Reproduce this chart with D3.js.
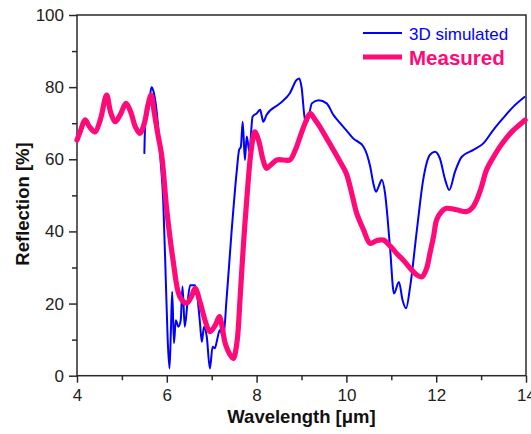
<!DOCTYPE html>
<html><head><meta charset="utf-8">
<script src="https://cdn.jsdelivr.net/npm/d3@7"></script>
<style>body{margin:0;background:#fff}svg{display:block}</style>
</head><body>
<svg id="c" width="531" height="434"></svg>
<script>
const xTicks = [4, 6, 8, 10, 12, 14];
const yTicks = [0, 20, 40, 60, 80, 100];
const seriesNames = ["3D simulated", "Measured"];

const simX = [5.5,5.52,5.58,5.62,5.66,5.7,5.74,5.8,5.86,5.92,5.98,6.02,6.06,6.09,6.12,6.16,6.2,6.26,6.31,6.35,6.4,6.46,6.52,6.63,6.68,6.74,6.78,6.83,6.89,6.96,7.02,7.07,7.12,7.18,7.26,7.33,7.44,7.56,7.61,7.65,7.69,7.74,7.78,7.84,7.91,8.0,8.08,8.11,8.15,8.22,8.52,8.74,8.89,8.95,9.0,9.08,9.13,9.23,9.38,9.56,9.71,9.86,10.0,10.15,10.38,10.53,10.6,10.66,10.72,10.79,10.86,10.97,11.06,11.17,11.25,11.33,11.42,11.57,11.71,11.86,11.97,12.08,12.2,12.29,12.42,12.57,12.83,13.05,13.27,13.49,13.72,13.98];
const simY = [61.5,70,73,77,80,79,76.5,70,60,48.7,25.6,10,2,12,23.3,9,15.4,13.6,15.4,24.7,13.6,20.1,25.1,25.1,21.9,14.5,9.4,13.6,10.8,2,8,7.6,9.9,12.7,10.8,21,39.5,57,62.6,63.5,70.4,59.8,66.3,62.1,71.8,72.7,73.7,72.3,70.4,72.3,75.5,78.3,82,82.4,80.1,70.9,70.4,75.5,76.4,75.5,72.3,70,68,65.8,63.5,58,53.3,51,52.5,54.3,50.6,35.8,22.8,26,21,18.7,24.7,40.4,54.3,61.2,62.1,60.3,54.3,51.5,56.6,60.7,62.6,64.4,68.1,71.4,74.6,77.4];

const measX = [4.0,4.08,4.18,4.28,4.4,4.52,4.66,4.75,4.85,4.97,5.09,5.2,5.3,5.4,5.5,5.58,5.65,5.72,5.8,5.89,6.0,6.14,6.29,6.44,6.55,6.63,6.75,6.86,6.96,7.08,7.17,7.24,7.3,7.4,7.48,7.56,7.63,7.7,7.78,7.88,7.96,8.05,8.14,8.22,8.32,8.45,8.6,8.74,8.86,8.97,9.08,9.19,9.3,9.41,9.56,9.71,9.85,10.0,10.12,10.23,10.38,10.53,10.68,10.82,10.97,11.12,11.27,11.42,11.56,11.68,11.78,11.86,11.94,12.01,12.12,12.23,12.45,12.68,12.8,12.9,13.0,13.12,13.27,13.42,13.57,13.72,13.85,13.98];
const measY = [65.3,68,70.9,69,67.6,71,77.8,73,70.4,72.5,75.5,73,69,67.2,70,75,77.8,73,67,60.7,45.9,32,21.9,20.1,22,24.2,20,15,12.2,14,16.4,13,9,6,4.8,9,21,35,48.7,62.6,67.6,65,60,57.5,58.5,59.8,59.8,59.8,62.5,66.3,70,72.7,71,69,65.8,62.6,59.5,56,50.5,45,40.5,36.7,37.5,37.6,36,33.9,32,29.8,28,27.4,29.5,33.9,38.5,43.2,45.5,46.4,46,45.5,46.5,48.7,52,57,60.5,63.5,66,68.1,69.5,70.9];

const svg = d3.select("#c");
const m = {l:77, r:526, t:15, b:375.7};
const x = d3.scaleLinear().domain([4,14]).range([m.l, m.r]);
const y = d3.scaleLinear().domain([0,100]).range([m.b, m.t]);
const font = "'Liberation Sans', Arial, sans-serif";
const axisCol = "#2a2a2a";

// frame
svg.append("rect").attr("x", m.l).attr("y", m.t).attr("width", m.r-m.l).attr("height", m.b-m.t)
  .attr("fill","none").attr("stroke", axisCol).attr("stroke-width",1.5);

// x axis
const xAxis = d3.axisBottom(x).tickValues(xTicks).tickSize(7).tickPadding(6).tickFormat(d3.format("d"));
const gx = svg.append("g").attr("transform",`translate(0,${m.b})`).call(xAxis);
const xMinor = d3.axisBottom(x).tickValues([5,7,9,11,13]).tickSize(4.5).tickFormat("");
const gxm = svg.append("g").attr("transform",`translate(0,${m.b})`).call(xMinor);
// y axis
const yAxis = d3.axisLeft(y).tickValues(yTicks).tickSize(8).tickPadding(5).tickFormat(d3.format("d"));
const gy = svg.append("g").attr("transform",`translate(${m.l},0)`).call(yAxis);
const yMinor = d3.axisLeft(y).tickValues([10,30,50,70,90]).tickSize(5).tickFormat("");
const gym = svg.append("g").attr("transform",`translate(${m.l},0)`).call(yMinor);
[gx,gxm,gy,gym].forEach(g=>{
  g.select(".domain").remove();
  g.selectAll("line").attr("stroke",axisCol).attr("stroke-width",1.5);
  g.selectAll("text").attr("font-family",font).attr("font-size",17).attr("fill","#222");
});

// lines
const simData = simX.map((v,i)=>[v, simY[i]]);
const measData = measX.map((v,i)=>[v, measY[i]]);
const lineSim = d3.line().x(d=>x(d[0])).y(d=>y(d[1])).curve(d3.curveMonotoneX);
const lineMeas = d3.line().x(d=>x(d[0])).y(d=>y(d[1])).curve(d3.curveCatmullRom.alpha(0.5));
svg.append("path").datum(simData).attr("d", lineSim).attr("fill","none")
  .attr("stroke","#0000ff").attr("stroke-width",2).attr("stroke-linejoin","round");
svg.append("path").datum(measData).attr("d", lineMeas).attr("fill","none")
  .attr("stroke","#ff0a78").attr("stroke-width",5.2).attr("stroke-linejoin","round").attr("stroke-linecap","round");

// legend
svg.append("line").attr("x1",363).attr("x2",402).attr("y1",33).attr("y2",33)
  .attr("stroke","#0000ff").attr("stroke-width",2);
svg.append("text").attr("x",409).attr("y",39.5).text(seriesNames[0])
  .attr("font-family",font).attr("font-size",17).attr("fill","#0000ff");
svg.append("line").attr("x1",363).attr("x2",402).attr("y1",57).attr("y2",57)
  .attr("stroke","#ff0a78").attr("stroke-width",5);
svg.append("text").attr("x",409).attr("y",64.5).text(seriesNames[1])
  .attr("font-family",font).attr("font-size",20.5).attr("font-weight","bold").attr("fill","#ff0a78");

// axis titles
svg.append("text").attr("x",301.5).attr("y",423).attr("text-anchor","middle")
  .attr("font-family",font).attr("font-size",18.5).attr("font-weight","bold").attr("fill","#111")
  .text("Wavelength [\u03bcm]");
svg.append("text").attr("transform","translate(29,204) rotate(-90)").attr("text-anchor","middle")
  .attr("font-family",font).attr("font-size",18.5).attr("font-weight","bold").attr("fill","#111")
  .text("Reflection [%]");
</script>
</body></html>
